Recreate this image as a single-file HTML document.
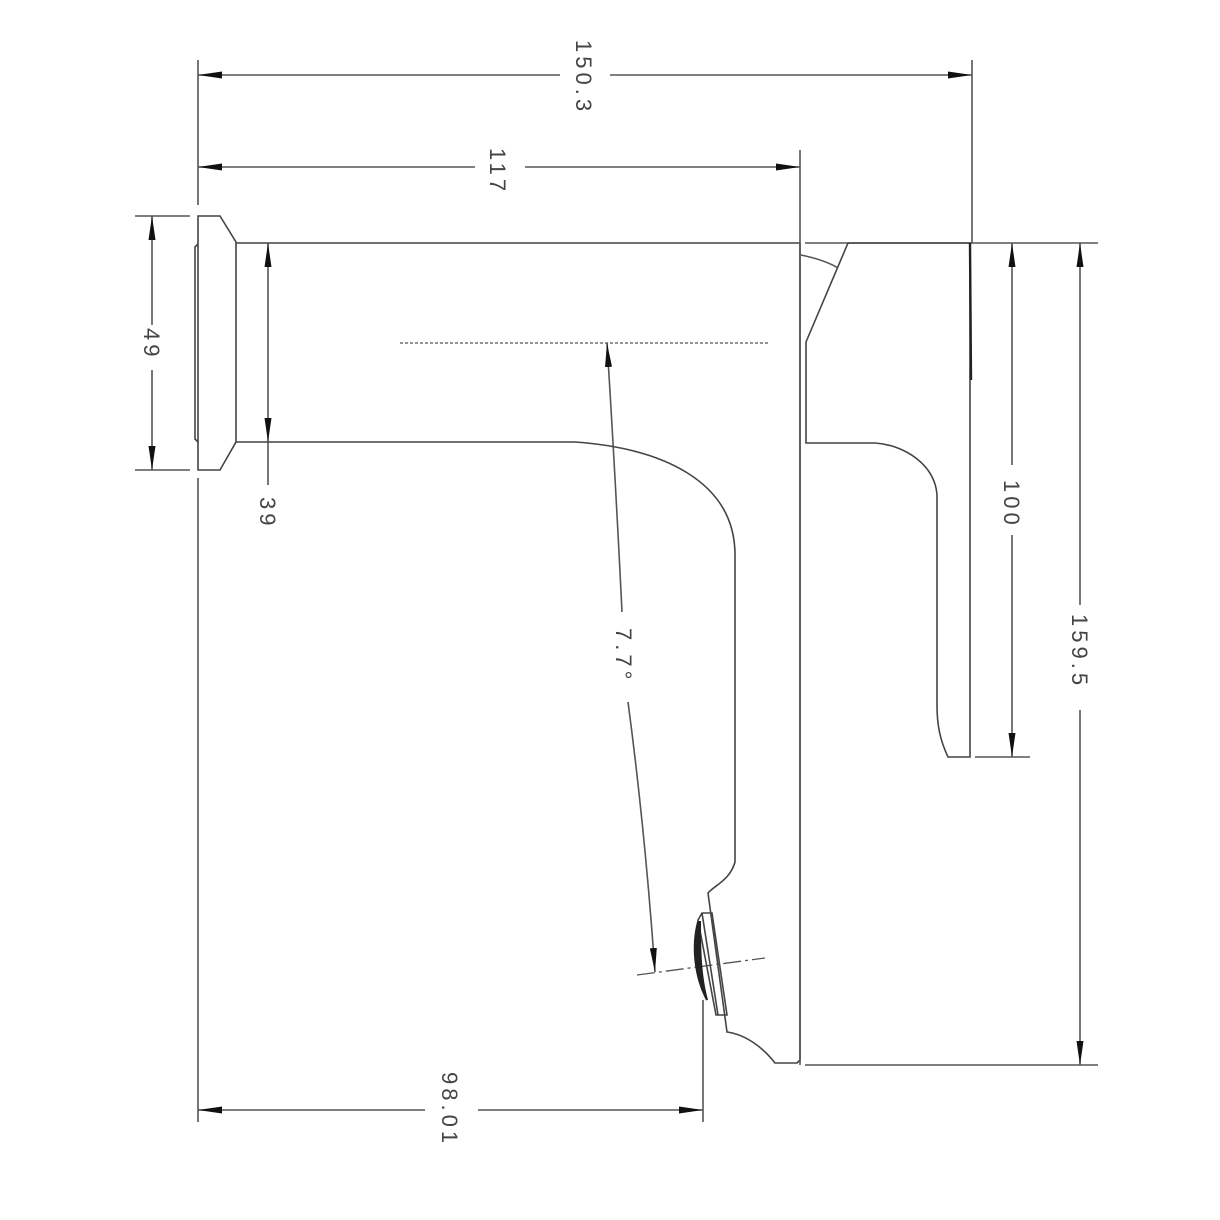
<!DOCTYPE html>
<html><head><style>body{margin:0;background:#fff}svg{display:block}text{font-family:"Liberation Sans",sans-serif;font-size:22px;fill:#444;letter-spacing:4px}</style></head><body>
<svg width="1220" height="1220" viewBox="0 0 1220 1220" xmlns="http://www.w3.org/2000/svg">
<defs>
<marker id="b" viewBox="0 0 24 10" refX="24" refY="5" markerWidth="24" markerHeight="10" markerUnits="userSpaceOnUse" orient="auto-start-reverse"><path d="M0,1.5 L24,5 L0,8.5z" fill="#111"/></marker></defs>
<g stroke="#555" stroke-width="1.6" fill="none">
<line x1="198" y1="60" x2="198" y2="205"/><line x1="198" y1="478" x2="198" y2="1122"/>
<line x1="972" y1="60" x2="972" y2="243"/>
<line x1="800" y1="150" x2="800" y2="243"/>
<line x1="703" y1="1000" x2="703" y2="1122"/>
<line x1="135" y1="216" x2="190" y2="216"/><line x1="135" y1="470" x2="190" y2="470"/>
<line x1="805" y1="243" x2="1098" y2="243"/>
<line x1="975" y1="757" x2="1030" y2="757"/>
<line x1="805" y1="1065" x2="1098" y2="1065"/>
<line x1="198" y1="75" x2="560" y2="75" marker-start="url(#b)"/><line x1="610" y1="75" x2="972" y2="75" marker-end="url(#b)"/>
<line x1="198" y1="167" x2="475" y2="167" marker-start="url(#b)"/><line x1="525" y1="167" x2="800" y2="167" marker-end="url(#b)"/>
<line x1="198" y1="1110" x2="425" y2="1110" marker-start="url(#b)"/><line x1="478" y1="1110" x2="703" y2="1110" marker-end="url(#b)"/>
<line x1="152" y1="216" x2="152" y2="325" marker-start="url(#b)"/><line x1="152" y1="370" x2="152" y2="470" marker-end="url(#b)"/>
<line x1="268" y1="243" x2="268" y2="442" marker-start="url(#b)" marker-end="url(#b)"/><line x1="268" y1="442" x2="268" y2="485"/>
<line x1="1012" y1="243" x2="1012" y2="465" marker-start="url(#b)"/><line x1="1012" y1="535" x2="1012" y2="757" marker-end="url(#b)"/>
<line x1="1080" y1="243" x2="1080" y2="605" marker-start="url(#b)"/><line x1="1080" y1="710" x2="1080" y2="1065" marker-end="url(#b)"/>
<path d="M622,612 Q615,470 607,343" marker-end="url(#b)"/>
<path d="M628,702 Q645,830 655,972" marker-end="url(#b)"/>
<line x1="400" y1="343" x2="768" y2="343" stroke-dasharray="3 2" stroke-width="1.2"/>
<line x1="637" y1="975" x2="765" y2="958" stroke-dasharray="18 4 3 4" stroke-width="1.3"/>
<path d="M198,216 L220,216 L236,242 L236,442 L220,470 L198,470 Z" stroke="#444"/>
<path d="M198,244 L195,247 L195,439 L198,442" stroke="#444"/>
<path d="M236,243 L800,243" stroke="#444"/>
<path d="M236,442 L575,442 C660,448 735,480 735,555 L735,862 C730,880 715,885 708,893 L727,1032 C748,1035 765,1050 775,1063 L797,1063 L800,1060 L800,243" stroke="#444"/>
<path d="M712,913 L702,913 L698,920 L716,1015 L727,1015 Z" stroke="#444"/>
<line x1="702" y1="913" x2="718" y2="1015" stroke="#444"/>
<path d="M698,922 C692,945 694,975 707,1000 C700,975 700,945 700,922 Z" fill="#222" stroke="#222" stroke-width="2"/>
<path d="M848,243 L970,243 L970,757 L948,757 C940,740 937,725 937,705 L937,495 C935,465 905,445 875,443 L806,443 L806,342 L848,243" stroke="#444"/>
<path d="M970,243 L971,380" stroke="#222" stroke-width="2.4"/>
<line x1="800" y1="243" x2="800" y2="1065"/>
<path d="M801,255 Q825,260 838,268"/>
</g>
<g>
<text transform="translate(576,40) rotate(90)">150.3</text>
<text transform="translate(490,148) rotate(90)">117</text>
<text transform="translate(144,328) rotate(90)">49</text>
<text transform="translate(260,497) rotate(90)">39</text>
<text transform="translate(1004,480) rotate(90)">100</text>
<text transform="translate(1072,614) rotate(90)">159.5</text>
<text transform="translate(616,628) rotate(90)">7.7°</text>
<text transform="translate(442,1072) rotate(90)">98.01</text>
</g>
</svg></body></html>
